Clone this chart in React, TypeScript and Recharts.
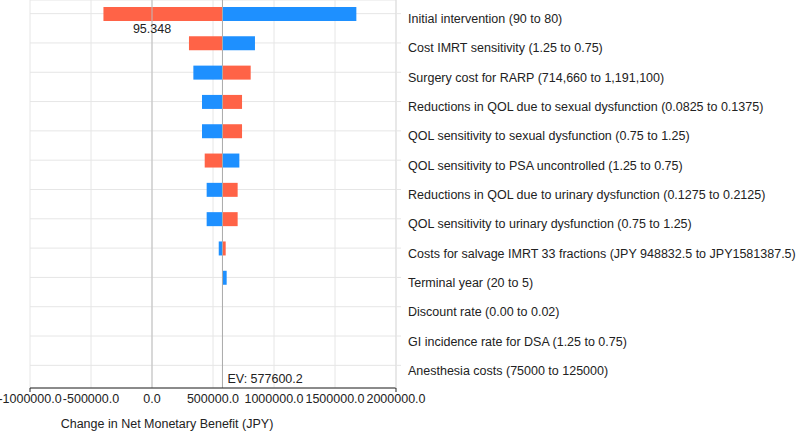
import {
  BarChart,
  Bar,
  XAxis,
  YAxis,
  CartesianGrid,
  ReferenceLine,
} from "recharts";

// expected value of the base case (JPY)
const EV = 577600.2;

const parameters = [
  "Initial intervention (90 to 80)",
  "Cost IMRT sensitivity (1.25 to 0.75)",
  "Surgery cost for RARP (714,660 to 1,191,100)",
  "Reductions in QOL due to sexual dysfunction (0.0825 to 0.1375)",
  "QOL sensitivity to sexual dysfunction (0.75 to 1.25)",
  "QOL sensitivity to PSA uncontrolled (1.25 to 0.75)",
  "Reductions in QOL due to urinary dysfunction (0.1275 to 0.2125)",
  "QOL sensitivity to urinary dysfunction (0.75 to 1.25)",
  "Costs for salvage IMRT 33 fractions (JPY 948832.5 to JPY1581387.5)",
  "Terminal year (20 to 5)",
  "Discount rate (0.00 to 0.02)",
  "GI incidence rate for DSA (1.25 to 0.75)",
  "Anesthesia costs (75000 to 125000)",
];

// net monetary benefit at the high end of each range (red)
const highValues = [
  -398000, 303000, 809000, 738000, 738000, 432000, 702000, 702000, 604000,
  EV, EV, EV, EV,
];

// net monetary benefit at the low end of each range (blue)
const lowValues = [
  1675000, 844000, 339000, 410000, 410000, 716000, 448000, 448000, 547000,
  612000, EV, EV, EV,
];

const xTicks = [-1000000, -500000, 0, 500000, 1000000, 1500000, 2000000];
const breakevenLabel = "95.348";

const RED = "#FF6347";
const BLUE = "#1E90FF";
const TEXT = "#222";
const FONT_SIZE = 12.5;

const span = (v: number): [number, number] => [Math.min(EV, v), Math.max(EV, v)];

const rows = parameters.map((name, i) => ({
  name,
  high: span(highValues[i]),
  low: span(lowValues[i]),
}));

const ParamTick = (props: any) => {
  const { x, y, payload } = props;
  return (
    <text x={x - 1} y={y} dy={9.5} fill={TEXT} fontSize={FONT_SIZE} textAnchor="start">
      {payload.value}
    </text>
  );
};

const ValueTick = (props: any) => {
  const { x, y, payload } = props;
  const isEnd =
    payload.value === xTicks[0] || payload.value === xTicks[xTicks.length - 1];
  return (
    <g>
      {isEnd && <line x1={x} x2={x} y1={388} y2={392} stroke={TEXT} />}
      <text
        x={x}
        y={y + 1}
        dy="0.71em"
        fill={TEXT}
        fontSize={FONT_SIZE}
        textAnchor="middle"
      >
        {payload.value.toFixed(1)}
      </text>
    </g>
  );
};

export default function App() {
  return (
    <div
      style={{
        position: "absolute",
        left: 0,
        top: 0,
        fontFamily: "'Liberation Sans', Arial, sans-serif",
      }}
    >
      <BarChart
        width={800}
        height={433}
        data={rows}
        layout="vertical"
        margin={{ top: 0, right: 0, bottom: 0, left: 30 }}
        barGap={-14}
      >
        <CartesianGrid stroke="#e6e6e6" />
        <XAxis
          type="number"
          domain={[-1000000, 2000000]}
          ticks={xTicks}
          interval={0}
          height={45}
          axisLine={{ stroke: TEXT }}
          tickLine={false}
          tickSize={3}
          tickMargin={2}
          tick={<ValueTick />}
          label={{
            value: "Change in Net Monetary Benefit (JPY)",
            position: "insideBottom",
            offset: 5,
            dx: -46,
            fill: TEXT,
            fontSize: FONT_SIZE,
          }}
        />
        <YAxis
          type="category"
          dataKey="name"
          orientation="right"
          width={404}
          interval={0}
          padding={{ top: -1, bottom: 8 }}
          axisLine={{ stroke: "#dddddd" }}
          tickLine={{ stroke: "#e6e6e6" }}
          tickSize={5}
          tickMargin={8}
          tick={<ParamTick />}
        />
        <Bar dataKey="high" fill={RED} barSize={14} isAnimationActive={false} />
        <Bar dataKey="low" fill={BLUE} barSize={14} isAnimationActive={false} />
        <ReferenceLine
          x={0}
          stroke="#bdbdbd"
          label={{
            value: breakevenLabel,
            position: "insideTop",
            offset: 24,
            fill: TEXT,
            fontSize: FONT_SIZE,
          }}
        />
        <ReferenceLine
          x={EV}
          stroke="#aaaaaa"
          label={{
            value: `EV: ${EV}`,
            position: "insideBottomLeft",
            offset: 5,
            fill: TEXT,
            fontSize: FONT_SIZE,
          }}
        />
      </BarChart>
    </div>
  );
}
